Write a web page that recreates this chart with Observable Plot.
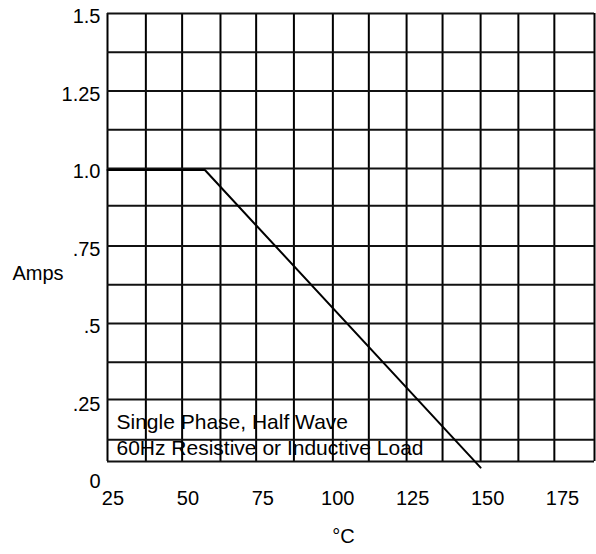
<!DOCTYPE html>
<html>
<head>
<meta charset="utf-8">
<script src="https://cdn.jsdelivr.net/npm/d3@7"></script>
<script src="https://cdn.jsdelivr.net/npm/@observablehq/plot@0.6"></script>
<style>
  html, body { margin: 0; padding: 0; background: #fff; }
  #chart svg { display: block; }
</style>
</head>
<body>
<div id="chart"></div>
<script>
// Derating curve (temperature °C -> output current A)
const temps = [22.5, 55, 147];
const amps = [1.0, 1.0, 0.04];

// Axis ticks and labels
const xTicks = [25, 50, 75, 100, 125, 150, 175];
const yTicks = [0, 0.25, 0.5, 0.75, 1.0, 1.25, 1.5];
const yTickLabels = ["0", ".25", ".5", ".75", "1.0", "1.25", "1.5"];

// Chart-paper grid lines (data units)
const gridX = [22.5, 35.3, 47.4, 60.2, 72.1, 84.7, 97.7, 109.7, 122.3, 134.3, 147, 159.6, 171.6, 185];
const gridY = [1.5, 1.375, 1.25, 1.125, 1.0, 0.88, 0.75, 0.625, 0.5, 0.375, 0.255, 0.125, 0.055];

const xLabel = "°C";
const yLabel = "Amps";
const note = ["Single Phase, Half Wave", "60Hz Resistive or Inductive Load"];

const curve = temps.map((t, i) => ({t, a: amps[i]}));
const gxMin = d3.min(gridX), gxMax = d3.max(gridX);
const gyMin = d3.min(gridY), gyMax = d3.max(gridY);

const chart = Plot.plot({
  width: 596,
  height: 554,
  marginLeft: 107,
  marginRight: 2,
  marginTop: 13,
  marginBottom: 76,
  style: {fontFamily: "'Liberation Sans', Arial, sans-serif", fontSize: "20px", color: "#000", background: "transparent"},
  x: {domain: [gxMin, gxMax], label: null},
  y: {domain: [0, 1.5], label: null},
  marks: [
    Plot.ruleX(gridX, {x: d => d, y1: gyMin, y2: gyMax, stroke: "#000", strokeWidth: 2}),
    Plot.ruleY(gridY, {y: d => d, x1: gxMin, x2: gxMax, stroke: "#111", strokeWidth: 2}),
    Plot.line(curve, {x: "t", y: "a", stroke: "#000", strokeWidth: 2, dy: 1.5}),
    Plot.axisX(xTicks, {tickSize: 0, tickPadding: 12, dx: -2, label: null, fill: "#000", fontSize: 20}),
    Plot.axisY(yTicks, {tickSize: 0, tickPadding: 7, dy: 3.5, label: null, fill: "#000", fontSize: 20,
      tickFormat: d => yTickLabels[yTicks.indexOf(d)]}),
    Plot.text([yLabel], {frameAnchor: "left", textAnchor: "start", dx: -95, dy: 28, fontSize: 20, fill: "#000"}),
    Plot.text([xLabel], {frameAnchor: "bottom", dx: -7.5, dy: 64, fontSize: 20, fill: "#000"}),
    Plot.text([note.join("\n")], {frameAnchor: "bottom-left", textAnchor: "start", lineAnchor: "bottom",
      lineHeight: 1.24, dx: 9, dy: -23.7, fontSize: 21, fill: "#000"})
  ]
});
document.getElementById("chart").appendChild(chart);
</script>
</body>
</html>
